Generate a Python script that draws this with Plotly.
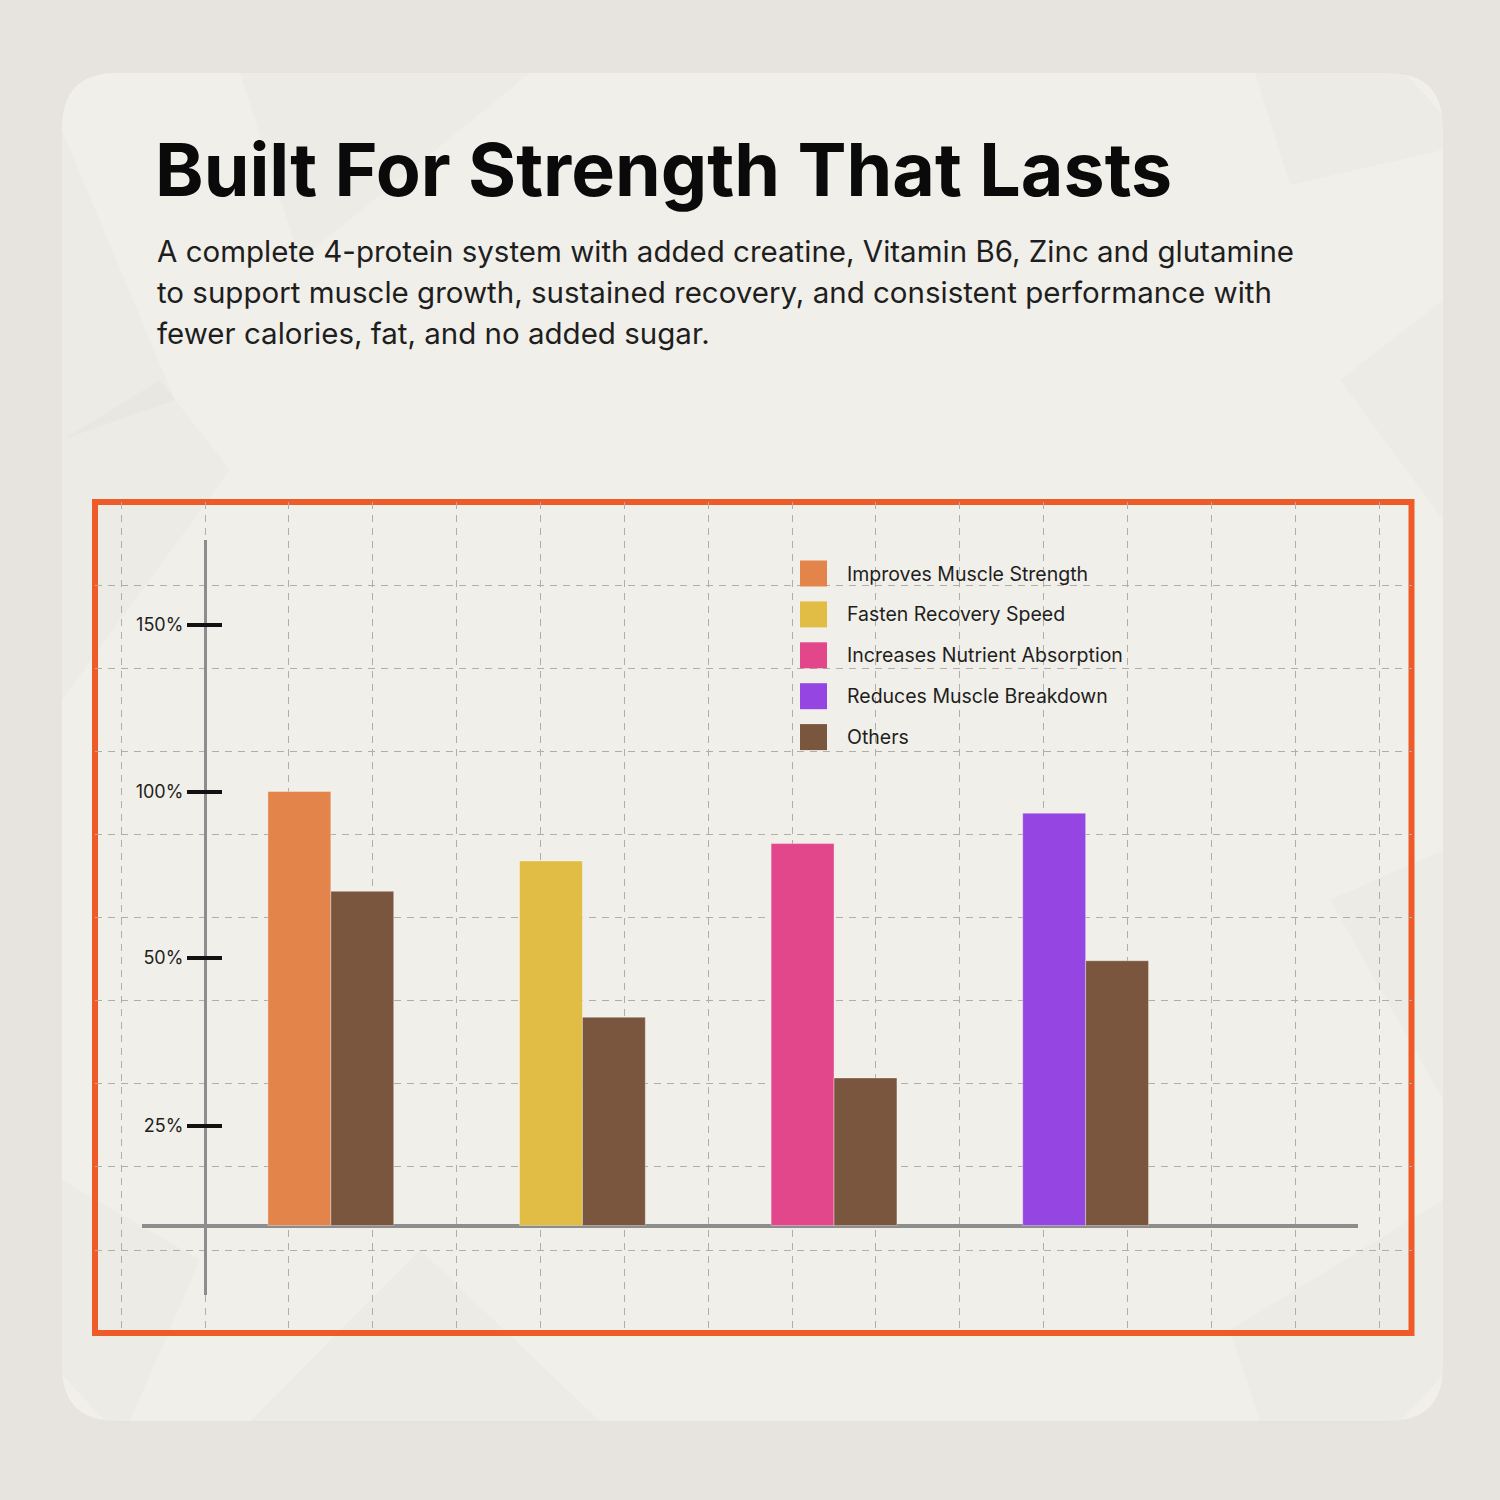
import plotly.graph_objects as go

# data
categories = ["Improves Muscle Strength", "Fasten Recovery Speed",
              "Increases Nutrient Absorption", "Reduces Muscle Breakdown"]
benefit_values = [100, 84, 88, 95]
others_values = [77, 48, 34, 61]
others_name = "Others"
tick_values = [22.9, 61.6, 100, 138.4]
tick_labels = ["25%", "50%", "100%", "150%"]

bar_colors = ["#e3844a", "#e2bd45", "#e2468b", "#9545e2"]
others_color = "#7a563e"

title = "Built For Strength That Lasts"
subtitle_lines = [
    "A complete 4-protein system with added creatine, Vitamin B6, Zinc and glutamine",
    "to support muscle growth, sustained recovery, and consistent performance with",
    "fewer calories, fat, and no added sugar.",
]

W = H = 1500
FONT = "Inter"


def px(x):
    return x / W


def py(y):
    return 1 - y / H


# grid cell size (px) and chart geometry
cell_x, cell_y = 83.87, 83.1
axis_x_px = 205          # vertical axis
base_px = 1225.5         # horizontal axis (0%)
unit_px = 4.34           # px per percent
grid_zero_px = 1250      # a horizontal grid line

fig = go.Figure()

# empty trace so the background grid subplot exists
fig.add_trace(go.Scatter(x=[], y=[], xaxis="x", yaxis="y", showlegend=False, hoverinfo="skip"))

centers = [1.5 + 3 * i for i in range(len(categories))]
bar_w = 0.75

for i, name in enumerate(categories):
    fig.add_trace(go.Bar(
        x=[centers[i]], y=[benefit_values[i]], name=name,
        xaxis="x2", yaxis="y2", offset=-bar_w, width=bar_w,
        marker=dict(color=bar_colors[i], line=dict(width=1, color="rgba(255,255,255,0.35)")),
        showlegend=False,
    ))

fig.add_trace(go.Bar(
    x=centers, y=others_values, name=others_name,
    xaxis="x2", yaxis="y2", offset=0, width=bar_w,
    marker=dict(color=others_color, line=dict(width=1, color="rgba(255,255,255,0.35)")),
    showlegend=False,
))

# frame region (px)
fx0, fx1, fy0, fy1 = 95, 1411.5, 502, 1333
# data plot region (px)
dx0, dx1, dy0, dy1 = 142, 1358, 540, 1295

grid_col = "#b1aea9"
fig.update_layout(
    width=W, height=H,
    margin=dict(l=0, r=0, t=0, b=0),
    paper_bgcolor="#e7e4df",
    plot_bgcolor="rgba(0,0,0,0)",
    barmode="overlay",
    font=dict(family=FONT, color="#1e1e1e"),
    xaxis=dict(domain=[px(fx0), px(fx1)],
               range=[(fx0 - axis_x_px) / cell_x, (fx1 - axis_x_px) / cell_x],
               tick0=0, dtick=1, showgrid=True, griddash="7px,6px", gridcolor=grid_col, gridwidth=1.3,
               showticklabels=False, ticks="", zeroline=False, showline=False, anchor="y", fixedrange=True),
    yaxis=dict(domain=[py(fy1), py(fy0)],
               range=[(grid_zero_px - fy1) / cell_y, (grid_zero_px - fy0) / cell_y],
               tick0=0, dtick=1, showgrid=True, griddash="7px,6px", gridcolor=grid_col, gridwidth=1.3,
               showticklabels=False, ticks="", zeroline=False, showline=False, anchor="x", fixedrange=True),
    xaxis2=dict(domain=[px(dx0), px(dx1)],
                range=[(dx0 - axis_x_px) / cell_x, (dx1 - axis_x_px) / cell_x],
                showgrid=False, showticklabels=False, ticks="", showline=False,
                zeroline=True, zerolinecolor="#8d8d8d", zerolinewidth=3, anchor="y2"),
    yaxis2=dict(domain=[py(dy1), py(dy0)],
                range=[(base_px - dy1) / unit_px, (base_px - dy0) / unit_px],
                showgrid=False, showline=False,
                zeroline=True, zerolinecolor="#8d8d8d", zerolinewidth=4,
                tickmode="array", tickvals=tick_values, ticktext=tick_labels,
                ticks="outside", ticklen=35, tickwidth=4, tickcolor="#111111",
                tickfont=dict(family=FONT, size=18, color="#1e1e1e"),
                anchor="free", position=px(222)),
)

shapes = []
# card with rounded corners
cx0, cx1, cy0, cy1, r = 62, 1443, 73, 1421, 55
card = (f"M {px(cx0 + r)},{py(cy0)} L {px(cx1 - r)},{py(cy0)} Q {px(cx1)},{py(cy0)} {px(cx1)},{py(cy0 + r)} "
        f"L {px(cx1)},{py(cy1 - r)} Q {px(cx1)},{py(cy1)} {px(cx1 - r)},{py(cy1)} "
        f"L {px(cx0 + r)},{py(cy1)} Q {px(cx0)},{py(cy1)} {px(cx0)},{py(cy1 - r)} "
        f"L {px(cx0)},{py(cy0 + r)} Q {px(cx0)},{py(cy0)} {px(cx0 + r)},{py(cy0)} Z")
shapes.append(dict(type="path", path=card, xref="paper", yref="paper",
                   fillcolor="#f1efe9", line=dict(width=0), layer="below"))

# faint low-poly texture (kept inside the rounded card)
polys = [
    [(1255, 73), (1290, 185), (1443, 150), (1443, 115), (1405, 73)],
    [(62, 130), (175, 400), (62, 440)],
    [(62, 440), (160, 380), (230, 470), (62, 700)],
    [(240, 73), (530, 73), (300, 260)],
    [(1340, 380), (1443, 300), (1443, 520)],
    [(62, 1180), (200, 1260), (130, 1421), (105, 1421), (62, 1375)],
    [(420, 1250), (600, 1421), (250, 1421)],
    [(1230, 1330), (1443, 1200), (1443, 1375), (1400, 1421), (1260, 1421)],
    [(1330, 900), (1443, 850), (1443, 1100)],
]
for poly in polys:
    path = "M " + " L ".join(f"{px(x)},{py(y)}" for x, y in poly) + " Z"
    shapes.append(dict(type="path", path=path, xref="paper", yref="paper",
                       fillcolor="rgba(120,110,95,0.028)", line=dict(width=0), layer="below"))

# orange frame
shapes.append(dict(type="rect", xref="paper", yref="paper",
                   x0=px(fx0), x1=px(fx1), y0=py(fy1), y1=py(fy0),
                   line=dict(color="#ef5a29", width=6), fillcolor="rgba(0,0,0,0)", layer="below"))

# legend swatches + labels
legend_names = categories + [others_name]
legend_colors = bar_colors + [others_color]
leg_x, leg_y, leg_step, sw = 800, 573.5, 40.9, 26
annotations = []
for i, (name, col) in enumerate(zip(legend_names, legend_colors)):
    yc = leg_y + i * leg_step
    shapes.append(dict(type="rect", xref="paper", yref="paper",
                       x0=px(leg_x), x1=px(leg_x + sw + 1), y0=py(yc + sw / 2), y1=py(yc - sw / 2),
                       fillcolor=col, line=dict(width=0), layer="above"))
    annotations.append(dict(text=name, x=px(845), y=py(yc), xref="paper", yref="paper",
                            xanchor="left", yanchor="middle", showarrow=False,
                            font=dict(family=FONT, size=19.5, color="#1e1e1e")))

annotations.append(dict(text=title, x=px(153), y=py(169),
                        xref="paper", yref="paper", xanchor="left", yanchor="middle", showarrow=False,
                        font=dict(family=FONT, size=73.5, color="#0a0a0a", weight=700)))
for i, line in enumerate(subtitle_lines):
    annotations.append(dict(text=line, x=px(155), y=py(251 + 41 * i), xref="paper", yref="paper",
                            xanchor="left", yanchor="middle", showarrow=False,
                            font=dict(family=FONT, size=29.5, color="#1e1e1e")))

fig.update_layout(shapes=shapes, annotations=annotations)

fig.write_html("out.html", config={"displayModeBar": False},
               post_script="document.body.style.margin='0';")
